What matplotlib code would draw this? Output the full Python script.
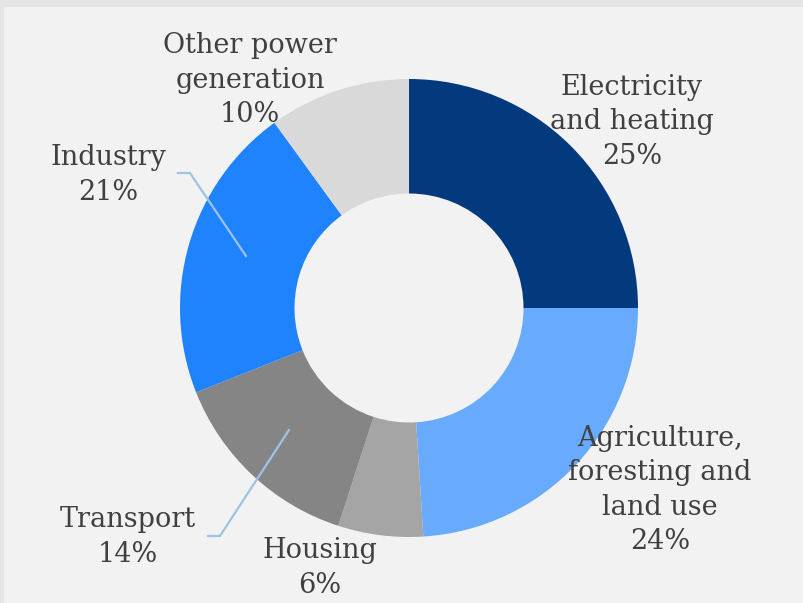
import matplotlib
matplotlib.use("Agg")
import matplotlib.pyplot as plt

# emissions share by sector (%)
sectors = ["Electricity\nand heating", "Agriculture,\nforesting and\nland use",
           "Housing", "Transport", "Industry", "Other power\ngeneration"]
shares = [25, 24, 6, 14, 21, 10]
colors = ["#033a7d", "#68abfe", "#a5a5a5", "#858585", "#1f83fe", "#d9d9d9"]

# label centres in pixel space (x, y from top)
label_pos = [(632, 122), (660, 490), (320, 568), (128, 537), (108, 175), (250, 80)]

W, H = 804, 603
fig = plt.figure(figsize=(W / 100, H / 100), dpi=100, facecolor="#e5e5e5")
bg = fig.add_axes([4 / W, 0, (W - 4) / W, (H - 7) / H])
bg.set_facecolor("#f2f2f2")
bg.set_xticks([])
bg.set_yticks([])
for s in bg.spines.values():
    s.set_visible(False)

ax = fig.add_axes([0, 0, 1, 1])
ax.patch.set_alpha(0)

cx, cy, r = 409, H - 308, 229
ax.pie(shares, colors=colors, startangle=90, counterclock=False,
       center=(cx, cy), radius=r, frame=True,
       wedgeprops=dict(width=r * 0.5, linewidth=0))
ax.set_xlim(0, W)
ax.set_ylim(0, H)
ax.set_aspect("equal")
ax.axis("off")

for name, val, (px, py) in zip(sectors, shares, label_pos):
    ax.text(px, H - py, f"{name}\n{val}%", ha="center", va="center",
            fontsize=19.5, family="DejaVu Serif", color="#404040",
            linespacing=1.35)

# leader lines
lc = "#9dc3e6"
ax.plot([178, 190, 246], [H - 173, H - 173, H - 256], color=lc, lw=1.6)
ax.plot([208, 220, 289], [H - 536, H - 536, H - 430], color=lc, lw=1.6)

fig.savefig("out.png", dpi=100, facecolor=fig.get_facecolor())
